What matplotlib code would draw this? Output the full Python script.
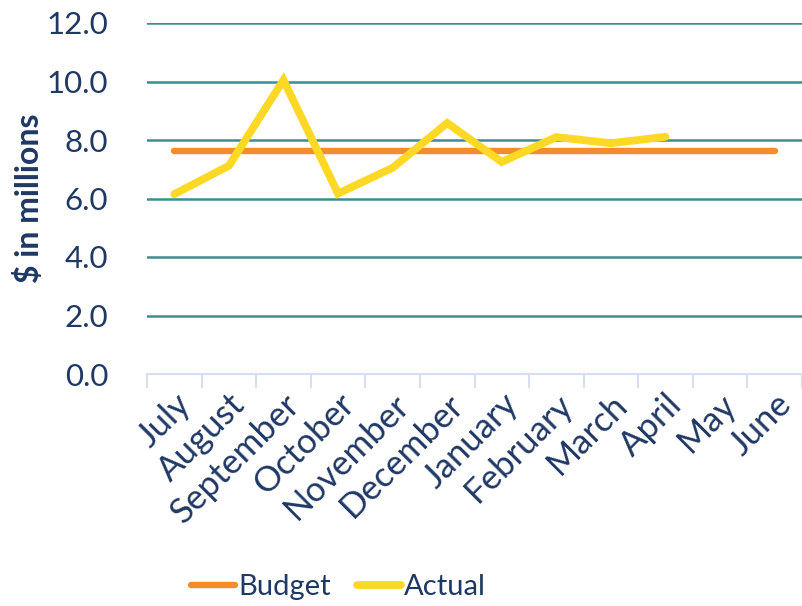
import matplotlib
matplotlib.use("Agg")
import matplotlib.pyplot as plt
import numpy as np

months = ["July", "August", "September", "October", "November", "December",
          "January", "February", "March", "April", "May", "June"]
budget = [7.63] * 12
actual = [6.15, 7.12, 10.05, 6.17, 7.05, 8.58, 7.25, 8.10, 7.89, 8.11]
yticks = [0, 2, 4, 6, 8, 10, 12]

navy = "#1F3864"
teal = "#3A8D93"
orange = "#F58C2A"
yellow = "#FDD825"

plt.rcParams['font.family'] = ['Lato', 'DejaVu Sans']

fig = plt.figure(figsize=(8.02, 6.06), dpi=100)
ax = fig.add_axes([147/802, 1-374/606, 655/802, 351/606])

x = np.arange(len(months))
ax.plot(x, budget, color=orange, lw=4.6, solid_capstyle='round', label="Budget", zorder=3)
ax.plot(x[:len(actual)], actual, color=yellow, lw=5.6, solid_capstyle='round',
        solid_joinstyle='miter', label="Actual", zorder=4)

ax.set_xlim(-0.5, 11.5)
ax.set_ylim(0, 12)
ax.set_yticks(yticks)
ax.set_yticklabels([f"{v:.1f}" for v in yticks], fontsize=22.5, color=navy)
for v in yticks[1:]:
    ax.axhline(v, color=teal, lw=1.8, zorder=1)

ax.set_xticks(x)
ax.set_xticklabels(months, rotation=45, ha='right', rotation_mode='anchor',
                   fontsize=25, color=navy)
ax.set_xticks(np.arange(-0.5, 12, 1), minor=True)
ax.tick_params(axis='x', which='major', length=0, pad=10)
ax.tick_params(axis='x', which='minor', length=10, color="#D6DFF0", width=1.5)
ax.tick_params(axis='y', length=0, pad=28)

for s in ['top', 'right', 'left']:
    ax.spines[s].set_visible(False)
ax.spines['bottom'].set_color("#D6DFF0")
ax.spines['bottom'].set_linewidth(1.5)

ax.set_ylabel("$ in millions", fontsize=23, fontweight='bold', color=navy, labelpad=2)

leg = fig.legend(loc='center', bbox_to_anchor=(0.422, 1-587/606), ncol=2, frameon=False,
                 fontsize=21, handlelength=1.5, columnspacing=0.9, handletextpad=0.1)
for t in leg.get_texts():
    t.set_color(navy)

fig.savefig("out.png", dpi=100)
